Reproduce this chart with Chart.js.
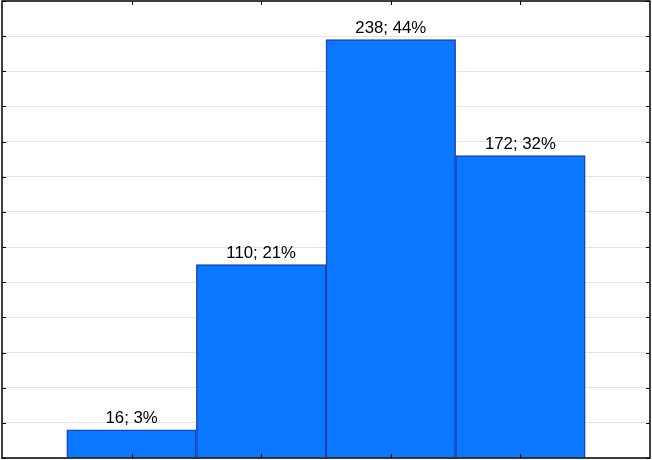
<!DOCTYPE html>
<html>
<head>
<meta charset="utf-8">
<script src="https://cdn.jsdelivr.net/npm/chart.js@4/dist/chart.umd.min.js"></script>
<style>
  html, body { margin: 0; padding: 0; background: #fff; }
  canvas { display: block; }
</style>
</head>
<body>
<canvas id="histChart" width="652" height="460"></canvas>
<script>
// bin positions on the x axis and counts per bin
const binPositions = [1, 2, 3, 4];
const counts = [16, 110, 238, 172];
const xRange = [0, 5];
const yRange = [0, 260];
const yStep = 20;

const total = counts.reduce((a, b) => a + b, 0);

// frame + inward tick marks on all four sides
const framePlugin = {
    id: 'frame',
    afterDraw(chart) {
        const {ctx, chartArea: a, scales} = chart;
        ctx.save();
        ctx.strokeStyle = '#000';
        ctx.lineWidth = 1.5;
        ctx.strokeRect(a.left, a.top, a.right - a.left, a.bottom - a.top);
        ctx.lineWidth = 1;
        ctx.beginPath();
        scales.y.ticks.forEach(t => {
            const y = Math.round(scales.y.getPixelForValue(t.value)) + 0.5;
            ctx.moveTo(a.left, y); ctx.lineTo(a.left + 4, y);
            ctx.moveTo(a.right, y); ctx.lineTo(a.right - 4, y);
        });
        binPositions.forEach(v => {
            const x = Math.round(scales.x.getPixelForValue(v)) + 0.5;
            ctx.moveTo(x, a.bottom); ctx.lineTo(x, a.bottom - 4);
            ctx.moveTo(x, a.top); ctx.lineTo(x, a.top + 4);
        });
        ctx.stroke();
        ctx.restore();
    }
};

// "count; pct%" above each bar
const labelPlugin = {
    id: 'barLabels',
    afterDatasetsDraw(chart) {
        const {ctx} = chart;
        const meta = chart.getDatasetMeta(0);
        ctx.save();
        ctx.fillStyle = '#000';
        ctx.font = '16.8px "Liberation Sans", Arial, sans-serif';
        ctx.textAlign = 'center';
        ctx.textBaseline = 'alphabetic';
        meta.data.forEach((bar, i) => {
            const pct = Math.round(counts[i] / total * 100);
            ctx.fillText(counts[i] + '; ' + pct + '%', bar.x, bar.y - 7);
        });
        ctx.restore();
    }
};

const ctx = document.getElementById('histChart').getContext('2d');
new Chart(ctx, {
    type: 'bar',
    data: {
        datasets: [{
            data: binPositions.map((x, i) => ({x: x, y: counts[i]})),
            backgroundColor: '#0a78ff',
            borderColor: '#1a3fb8',
            borderWidth: 1.5,
            barPercentage: 1,
            categoryPercentage: 1
        }]
    },
    options: {
        responsive: false,
        animation: false,
        layout: {padding: {left: 2, right: 2, top: 1, bottom: 2}},
        plugins: {legend: {display: false}, tooltip: {enabled: false}},
        scales: {
            x: {
                type: 'linear',
                offset: false,
                min: xRange[0], max: xRange[1],
                ticks: {display: false, stepSize: 1},
                grid: {display: false, drawTicks: false},
                border: {display: false}
            },
            y: {
                min: yRange[0], max: yRange[1],
                ticks: {display: false, stepSize: yStep},
                grid: {color: '#e4e4e4', lineWidth: 1, drawTicks: false},
                border: {display: false}
            }
        }
    },
    plugins: [framePlugin, labelPlugin]
});
</script>
</body>
</html>
